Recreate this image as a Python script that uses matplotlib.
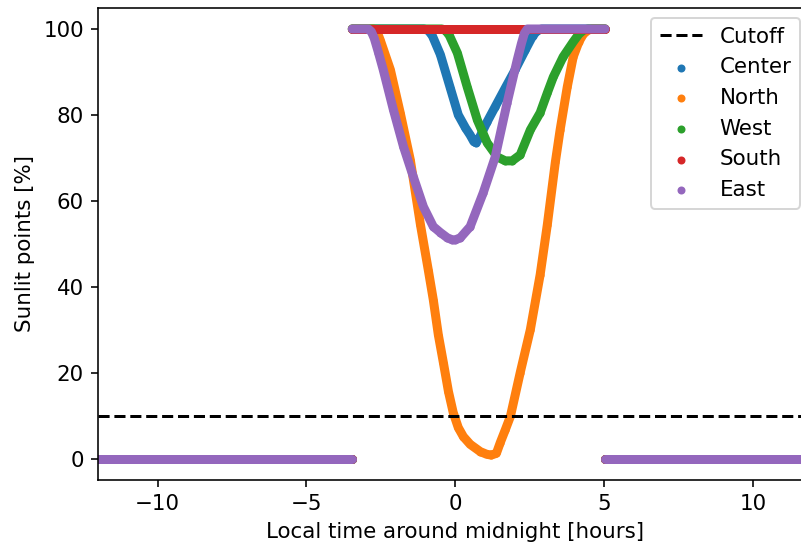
import numpy as np
import matplotlib
matplotlib.use("Agg")
import matplotlib.pyplot as plt

plt.rcParams["font.size"] = 10.7

# Shared night-side segments (all series at 0 %)
night_left_t = [-12.0, -3.46]
night_right_t = [5.03, 12.0]
night_val = [0.0, 0.0]

center_t = [-3.46, -1.05, -0.90, -0.77, -0.50, -0.17, 0.10, 0.34, 0.50, 0.62, 0.70, 0.84, 1.07, 1.34, 1.68, 2.01, 2.35, 2.60, 2.75, 2.90, 5.03]
center_v = [100, 100, 99.6, 98.4, 94.0, 86.3, 80.0, 77.0, 75.3, 73.8, 73.5, 75.1, 78.4, 81.9, 86.3, 90.5, 95.1, 98.4, 99.6, 100, 100]

north_t = [-3.46, -2.75, -2.62, -2.52, -2.18, -1.85, -1.51, -1.17, -0.91, -0.74, -0.57, -0.40, -0.23, -0.07, 0.10, 0.27, 0.50, 0.84, 1.05, 1.20, 1.38, 1.51, 1.68, 1.85, 2.18, 2.52, 2.85, 3.09, 3.36, 3.52, 3.76, 3.96, 4.15, 4.30, 4.45, 4.60, 5.03]
north_v = [100, 100, 99.2, 97.4, 90.5, 80.5, 69.5, 54.4, 44.0, 37.0, 28.8, 22.3, 15.6, 10.7, 7.2, 5.1, 3.3, 1.6, 1.0, 0.8, 1.2, 3.7, 6.7, 9.8, 20.0, 30.0, 42.8, 54.4, 69.0, 76.5, 86.5, 93.5, 97.0, 98.8, 99.7, 100, 100]

west_t = [-3.46, -0.45, -0.32, -0.20, 0.07, 0.40, 0.74, 1.07, 1.41, 1.68, 1.91, 2.18, 2.52, 2.85, 3.09, 3.29, 3.62, 3.96, 4.15, 4.30, 4.46, 5.03]
west_v = [100, 100, 99.6, 98.5, 94.4, 86.5, 78.8, 73.5, 70.2, 69.3, 69.3, 70.7, 76.5, 80.5, 85.1, 88.8, 93.5, 97.0, 98.8, 99.7, 100, 100]

south_t = [-3.46, 5.03]
south_v = [100, 100]

east_t = [-3.46, -2.92, -2.82, -2.72, -2.58, -2.42, -2.08, -1.74, -1.41, -1.07, -0.74, -0.50, -0.27, -0.10, 0.0, 0.17, 0.50, 0.94, 1.34, 1.74, 2.08, 2.22, 2.32, 2.42, 5.03]
east_v = [100, 100, 99.4, 97.8, 94.5, 90.5, 81.2, 72.6, 65.6, 58.6, 54.0, 52.6, 51.4, 50.9, 50.9, 51.4, 54.0, 61.9, 70.2, 82.8, 92.8, 96.6, 99.0, 100, 100]

cutoff = 10

series = [
    ("Center", center_t, center_v, "#1f77b4"),
    ("North", north_t, north_v, "#ff7f0e"),
    ("West", west_t, west_v, "#2ca02c"),
    ("South", south_t, south_v, "#d62728"),
    ("East", east_t, east_v, "#9467bd"),
]

fig = plt.figure(figsize=(801 / 144, 549 / 144), dpi=144)
ax = fig.add_axes([98 / 801, 69 / 549, (812.6 - 98) / 801, (541.5 - 69) / 549])

# Cutoff first so it leads the legend; drawn on top via zorder
ax.axhline(cutoff, color="k", ls="--", lw=1.5, label="Cutoff", zorder=5)

lw = 4.5
for name, t, v, c in series:
    ax.plot(night_left_t, night_val, color=c, lw=lw, solid_capstyle="round")
    ax.plot(night_right_t, night_val, color=c, lw=lw, solid_capstyle="round")
    ax.plot(t, v, color=c, lw=lw, solid_capstyle="round", solid_joinstyle="round")
    ax.scatter(t, v, s=9, color=c, label=name, zorder=0.5)

ax.set_xlim(-12, 12)
ax.set_ylim(-5, 105)
ax.set_xticks([-10, -5, 0, 5, 10])
ax.set_yticks([0, 20, 40, 60, 80, 100])
ax.set_xlabel("Local time around midnight [hours]")
ax.set_ylabel("Sunlit points [%]")
ax.spines["right"].set_visible(False)

ax.legend(loc="upper right", bbox_to_anchor=(800 / 801, 1 - 18 / 549),
          bbox_transform=fig.transFigure, borderaxespad=0)

fig.savefig("out.png", dpi=144)
